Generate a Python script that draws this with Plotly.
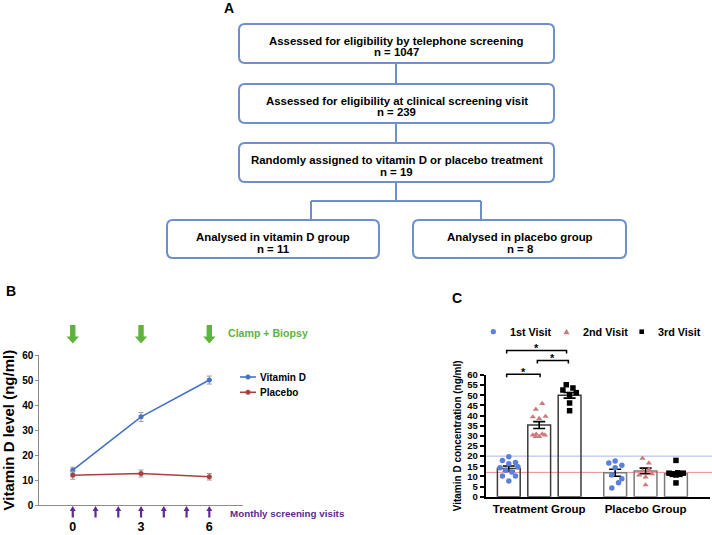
import plotly.graph_objects as go

W, H = 712, 535
FONT = "Liberation Sans, Arial, sans-serif"

# ---------------- Panel A data (flowchart) ----------------
flow_labels = [
    "Assessed for eligibility by telephone screening",
    "Assessed for eligibility at clinical screening visit",
    "Randomly assigned to vitamin D or placebo treatment",
    "Analysed in vitamin D group",
    "Analysed in placebo group",
]
flow_counts = [1047, 239, 19, 11, 8]

# ---------------- Panel B data ----------------
months = [0, 3, 6]
vitd_mean = [14.0, 35.3, 50.0]
vitd_sem = [1.2, 1.8, 1.6]
placebo_mean = [12.0, 12.7, 11.4]
placebo_sem = [1.6, 1.4, 1.3]
b_series = ["Vitamin D", "Placebo"]
clamp_months = [0, 3, 6]
screening_months = [0, 1, 2, 3, 4, 5, 6]
b_xtick_vals = [0, 3, 6]
b_xtick_text = ["0", "3", "6"]
b_yticks = [0, 10, 20, 30, 40, 50, 60]

# ---------------- Panel C data ----------------
groups = ["Treatment Group", "Placebo Group"]
visits = ["1st Visit", "2nd Visit", "3rd Visit"]
treat_means = [13.9, 35.3, 50.0]
treat_sem = [1.2, 1.7, 1.4]
plac_means = [11.8, 12.7, 11.3]
plac_sem = [1.7, 1.4, 1.0]
treat_v1 = [19.7, 17.8, 16.3, 16.8, 14.3, 14.8, 13.0, 12.2, 10.2, 10.2, 7.7]
treat_v2 = [45.9, 43.1, 39.3, 39.6, 38.5, 30.4, 30.8, 29.6, 30.9, 30.4, 29.6]
treat_v3 = [55.2, 53.6, 52.6, 51.3, 50.3, 46.2, 42.4]
plac_v1 = [16.6, 17.6, 15.5, 14.3, 10.7, 8.9, 6.9, 4.3]
plac_v2 = [18.9, 16.6, 13.5, 12.7, 10.7, 11.2, 9.7, 5.8]
plac_v3 = [17.9, 11.6, 11.0, 10.7, 11.0, 11.6, 11.8, 6.8]
ref_lines = [20, 12]
c_yticks = list(range(0, 61, 5))
sig_pairs = [(0, 1), (1, 2), (0, 2)]

# ---------------- layout / style (not data) ----------------
group_start = [0.0, 3.5]
jit_t1 = [0, -0.21, 0, 0.22, -0.29, 0.3, -0.1, 0.1, -0.21, 0.22, 0]
jit_t2 = [0.1, -0.11, -0.21, 0.21, 0, -0.21, -0.1, 0, 0.1, 0.19, -0.12]
jit_t3 = [-0.11, 0.11, -0.22, 0.22, 0, 0, 0]
jit_p1 = [-0.21, 0, 0.22, 0, -0.11, 0.22, 0.11, -0.11]
jit_p2 = [-0.1, 0.11, 0.11, -0.1, -0.21, 0.21, 0, 0]
jit_p3 = [0, -0.23, -0.12, 0, 0.13, 0.24, 0.06, 0]
visit_colors = ["#5B80DA", "#CC7A7A", "#000000"]
visit_symbols = ["circle", "triangle-up", "square"]
BLUE = "#4472C4"
RED = "#A8423F"
GREEN = "#5DB33D"
PURPLE = "#5E2A93"
BOXC = "#6E8FCB"


def px(x):
    return x / W


def py(y):
    return 1 - y / H


def ann(text, x, y, size, color="black", xanchor="center", bold=True, xref="paper"):
    return dict(text=text, x=(x if xref != "paper" else px(x)), y=py(y), xref=xref, yref="paper",
                showarrow=False, xanchor=xanchor, yanchor="middle",
                font=dict(family=FONT, size=size, color=color, weight="bold" if bold else "normal"))


def rrect(x0, y0, x1, y1, r=6):
    pts = [("M", x0 + r, y0), ("L", x1 - r, y0), ("Q", x1, y0, x1, y0 + r), ("L", x1, y1 - r),
           ("Q", x1, y1, x1 - r, y1), ("L", x0 + r, y1), ("Q", x0, y1, x0, y1 - r),
           ("L", x0, y0 + r), ("Q", x0, y0, x0 + r, y0)]
    s = ""
    for p in pts:
        if p[0] == "Q":
            s += "Q%.5f,%.5f %.5f,%.5f " % (px(p[1]), py(p[2]), px(p[3]), py(p[4]))
        else:
            s += "%s%.5f,%.5f " % (p[0], px(p[1]), py(p[2]))
    return s + "Z"


fig = go.Figure()
shapes = []
annotations = []

# ================= Panel A =================
boxes = [(239, 24, 554, 63), (239, 84, 554, 123), (239, 143, 554, 182),
         (167, 220, 379, 258), (413, 220, 626, 258)]
for (x0, y0, x1, y1), lab, n in zip(boxes, flow_labels, flow_counts):
    shapes.append(dict(type="path", path=rrect(x0, y0, x1, y1), xref="paper", yref="paper",
                       line=dict(color=BOXC, width=2), fillcolor="white"))
    cx = (x0 + x1) / 2
    annotations.append(ann(lab, cx, y0 + 17, 11.4))
    annotations.append(ann("n = %d" % n, cx, y0 + 28.5, 11.4))
connectors = [((396, 63), (396, 84)), ((396, 123), (396, 143)), ((396, 182), (396, 201)),
              ((311, 201), (481, 201)), ((311, 201), (311, 220)), ((481, 201), (481, 220))]
for (a, b) in connectors:
    shapes.append(dict(type="line", xref="paper", yref="paper", x0=px(a[0]), y0=py(a[1]),
                       x1=px(b[0]), y1=py(b[1]), line=dict(color=BOXC, width=2)))
annotations.append(ann("A", 228.5, 8, 14))

# ================= Panel B =================
for name, m, s, c in [(b_series[0], vitd_mean, vitd_sem, BLUE), (b_series[1], placebo_mean, placebo_sem, RED)]:
    fig.add_trace(go.Scatter(x=months, y=m, mode="lines+markers", name=name,
                             line=dict(color=c, width=1.6), marker=dict(color=c, size=5),
                             error_y=dict(type="data", array=s, color="#9A9A9A", thickness=1, width=2.5),
                             xaxis="x", yaxis="y", showlegend=False, cliponaxis=False))

PXU = 22.76  # px per month (style: arrow widths)
for m in clamp_months:
    hs, hh = 2.7 / PXU, 6.2 / PXU
    yt, yb, ytip = py(325), py(336.5), py(343.5)
    path = ("M%.4f,%.5f L%.4f,%.5f L%.4f,%.5f L%.4f,%.5f L%.4f,%.5f L%.4f,%.5f L%.4f,%.5f Z" %
            (m - hs, yt, m + hs, yt, m + hs, yb, m + hh, yb, m, ytip, m - hh, yb, m - hs, yb))
    shapes.append(dict(type="path", path=path, xref="x", yref="paper", fillcolor=GREEN,
                       line=dict(width=0)))
for m in screening_months:
    hs, hh = 1.1 / PXU, 3.0 / PXU
    ytip, yb, ybot = py(506), py(511), py(517.5)
    path = ("M%.4f,%.5f L%.4f,%.5f L%.4f,%.5f L%.4f,%.5f L%.4f,%.5f L%.4f,%.5f L%.4f,%.5f Z" %
            (m, ytip, m + hh, yb, m + hs, yb, m + hs, ybot, m - hs, ybot, m - hs, yb, m - hh, yb))
    shapes.append(dict(type="path", path=path, xref="x", yref="paper", fillcolor=PURPLE,
                       line=dict(width=0)))
annotations.append(ann("Clamp + Biopsy", 226, 333, 10.6, color=GREEN, xanchor="left"))
annotations.append(ann("Monthly screening visits", 228, 513.5, 9.8, color=PURPLE, xanchor="left"))
annotations.append(ann("B", 10.5, 291, 14))

# manual legend for panel B
for i, (name, c) in enumerate([(b_series[0], BLUE), (b_series[1], RED)]):
    yy = 377 + i * 15.3
    shapes.append(dict(type="line", xref="paper", yref="paper", x0=px(240), x1=px(256), y0=py(yy), y1=py(yy),
                       line=dict(color=c, width=1.6)))
    shapes.append(dict(type="circle", xref="paper", yref="paper", x0=px(245.5), x1=px(250.5),
                       y0=py(yy + 2.5), y1=py(yy - 2.5), fillcolor=c, line=dict(width=0)))
    annotations.append(ann(name, 257.5, yy, 10, xanchor="left"))

# ================= Panel C =================
all_vals = [[treat_v1, treat_v2, treat_v3], [plac_v1, plac_v2, plac_v3]]
all_jit = [[jit_t1, jit_t2, jit_t3], [jit_p1, jit_p2, jit_p3]]
means = [treat_means, plac_means]
sems = [treat_sem, plac_sem]
bar_line_cols = ["#3A3A3A", "#7A7A7A"]

for g in range(2):
    fig.add_trace(go.Bar(x=[group_start[g] + v for v in range(3)], y=means[g], width=0.75,
                         marker=dict(color="rgba(255,255,255,0)", line=dict(color=bar_line_cols[g], width=1.5)),
                         error_y=dict(type="data", array=sems[g], color="black", thickness=1.6, width=6),
                         xaxis="x2", yaxis="y2", showlegend=False))

for v in range(3):
    xs, ys = [], []
    for g in range(2):
        xs += [group_start[g] + v + j for j in all_jit[g][v]]
        ys += all_vals[g][v]
    fig.add_trace(go.Scatter(x=xs, y=ys, mode="markers", name=visits[v],
                             marker=dict(color=visit_colors[v], symbol=visit_symbols[v],
                                         size=5.5, line=dict(width=0)),
                             xaxis="x2", yaxis="y2", showlegend=False, cliponaxis=False))

ref_cols = ["#A8B8EC", "#F08A8A"]
for val, c in zip(ref_lines, ref_cols):
    shapes.append(dict(type="line", xref="x2 domain", yref="y2", x0=0, x1=1.01, y0=val, y1=val,
                       line=dict(color=c, width=1), layer="below"))

# significance brackets (treatment group)
bracket_y = [374.3, 360.5, 350.5]
bracket_x_adj = [(-0.07, 0.03), (-0.06, -0.04), (-0.07, -0.1)]
for (a, b), yy, (da, db) in zip(sig_pairs, bracket_y, bracket_x_adj):
    xa, xb = group_start[0] + a + da, group_start[0] + b + db
    path = "M%.4f,%.5f L%.4f,%.5f L%.4f,%.5f L%.4f,%.5f" % (xa, py(yy + 3), xa, py(yy), xb, py(yy), xb, py(yy + 3))
    shapes.append(dict(type="path", path=path, xref="x2", yref="paper", line=dict(color="black", width=1.5)))
    annotations.append(ann("*", (xa + xb) / 2, yy - 2.5, 11, xref="x2"))

# manual legend for panel C
leg_x = [493.3, 566.5, 641.7]
for v in range(3):
    cx, cy = leg_x[v], 331.7
    if v == 0:
        shapes.append(dict(type="circle", xref="paper", yref="paper", x0=px(cx - 2.6), x1=px(cx + 2.6),
                           y0=py(cy + 2.6), y1=py(cy - 2.6), fillcolor=visit_colors[v], line=dict(width=0)))
    elif v == 1:
        path = "M%.5f,%.5f L%.5f,%.5f L%.5f,%.5f Z" % (px(cx), py(cy - 3), px(cx + 3), py(cy + 2.5), px(cx - 3), py(cy + 2.5))
        shapes.append(dict(type="path", path=path, xref="paper", yref="paper", fillcolor=visit_colors[v],
                           line=dict(width=0)))
    else:
        shapes.append(dict(type="rect", xref="paper", yref="paper", x0=px(cx - 2.3), x1=px(cx + 2.3),
                           y0=py(cy + 2.3), y1=py(cy - 2.3), fillcolor=visit_colors[v], line=dict(width=0)))
    annotations.append(ann(visits[v], cx + 14.5, cy, 10.8, xanchor="left"))
annotations.append(ann("C", 456.5, 297.5, 14))

# ================= axes =================
fig.update_layout(
    width=W, height=H, margin=dict(l=0, r=0, t=0, b=0, pad=0),
    paper_bgcolor="white", plot_bgcolor="rgba(0,0,0,0)", template="none",
    font=dict(family=FONT, color="black"),
    showlegend=False,
    shapes=shapes, annotations=annotations,
    xaxis=dict(domain=[px(39.3), px(243)], anchor="y", range=[-1.47, 7.48], showgrid=False, zeroline=False,
               showline=True, linecolor="#8C8C8C", linewidth=1, ticks="", tickvals=b_xtick_vals,
               ticktext=b_xtick_text, ticklabelstandoff=10,
               tickfont=dict(family=FONT, size=12.5, weight="bold", color="black"), automargin=False),
    yaxis=dict(domain=[py(505.3), py(355)], anchor="x", range=[0, 60], showgrid=False, zeroline=False,
               showline=True, linecolor="#8C8C8C", linewidth=1, ticks="outside", ticklen=3,
               tickcolor="#8C8C8C", tickvals=b_yticks,
               tickfont=dict(family=FONT, size=10, weight="bold", color="black"), automargin=False,
               title=dict(text="Vitamin D level (ng/ml)", standoff=9,
                          font=dict(family=FONT, size=15, weight="bold", color="black"))),
    xaxis2=dict(domain=[px(485.7), px(710)], anchor="y2", range=[-0.76, 6.62], showgrid=False, zeroline=False,
                showline=True, linecolor="black", linewidth=2, ticks="",
                tickvals=[group_start[0] + 1, group_start[1] + 1], ticktext=groups,
                tickfont=dict(family=FONT, size=11.5, weight="bold", color="black"), automargin=False),
    yaxis2=dict(domain=[py(496.7), py(375)], anchor="x2", range=[0, 60], showgrid=False, zeroline=False,
                showline=True, linecolor="black", linewidth=2, ticks="outside", ticklen=4, tickwidth=2,
                tickcolor="black", tickvals=c_yticks,
                tickfont=dict(family=FONT, size=9.5, weight="bold", color="black"), automargin=False,
                title=dict(text="Vitamin D concentration (ng/ml)", standoff=4,
                           font=dict(family=FONT, size=10, weight="bold", color="black"))),
)

fig.write_html("out.html", config={"displayModeBar": False},
               post_script="document.body.style.margin='0px';")
